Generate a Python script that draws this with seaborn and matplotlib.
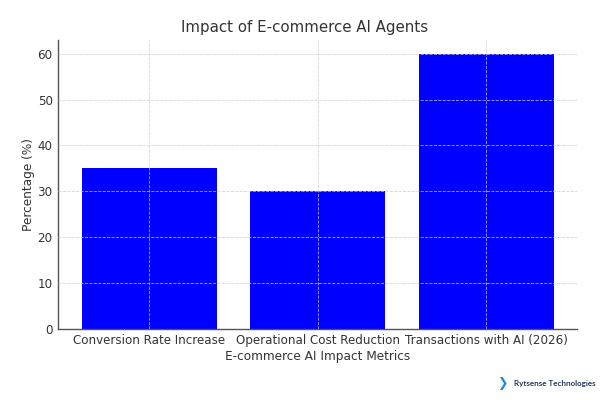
import matplotlib
matplotlib.use("Agg")
import matplotlib.pyplot as plt
import seaborn as sns
import pandas as pd

categories = ["Conversion Rate Increase", "Operational Cost Reduction", "Transactions with AI (2026)"]
values = [35, 30, 60]

sns.set_style("white")
plt.rcParams['font.family'] = ['DejaVu Sans']

df = pd.DataFrame({"metric": categories, "value": values})

fig = plt.figure(figsize=(6, 4), dpi=100)
ax = fig.add_axes([0.097, 0.178, 0.865, 0.722])
sns.barplot(data=df, x="metric", y="value", color="#0000ff", saturation=1, width=0.8, ax=ax)
for p in ax.patches:
    p.set_facecolor("#0000ff")
    p.set_edgecolor("none")

ax.set_axisbelow(False)
ax.grid(True, linestyle="--", color="#cccccc", linewidth=0.6, alpha=0.8)
ax.set_ylim(0, 63)
ax.set_xlim(-0.54, 2.54)
for s in ["top", "right"]:
    ax.spines[s].set_visible(False)
for s in ["left", "bottom"]:
    ax.spines[s].set_color("#555555")
    ax.spines[s].set_linewidth(1.0)
ax.tick_params(axis="both", colors="#333333", labelsize=8.6, length=0, pad=4)
ax.set_xlabel("E-commerce AI Impact Metrics", fontsize=8.7, color="#333333", labelpad=2)
ax.set_ylabel("Percentage (%)", fontsize=8.7, color="#333333", labelpad=2)
fig.text(0.507, 0.932, "Impact of E-commerce AI Agents", fontsize=10.8, color="#333333",
         ha="center", va="center")

fig.text(0.992, 0.042, "Rytsense Technologies", fontsize=5.8, color="#1f3a5f",
         fontweight="bold", family=["Lato", "DejaVu Sans"], ha="right", va="center")
fig.text(0.838, 0.042, "\u276F", fontsize=9, color="#1e88e5", ha="center", va="center")

fig.savefig("out.png", dpi=100)
